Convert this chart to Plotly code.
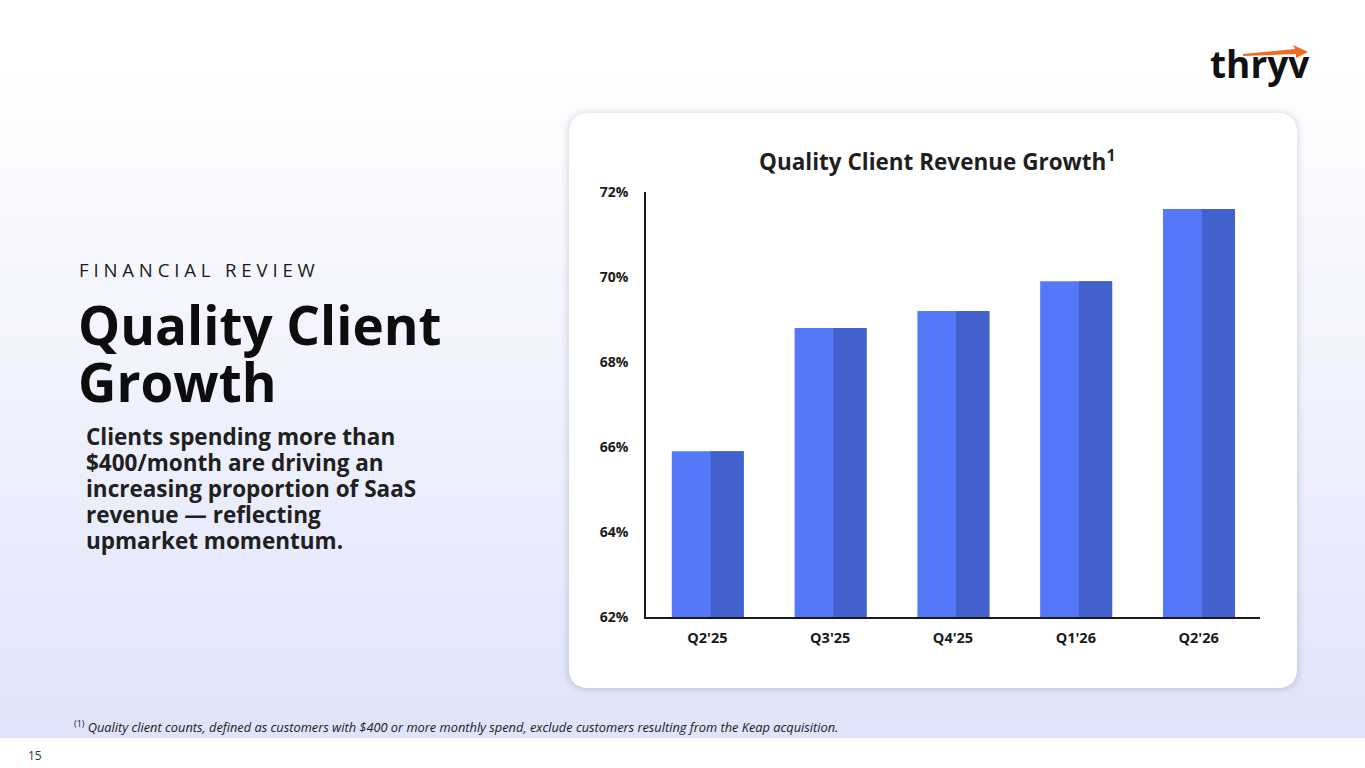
import plotly.graph_objects as go

# ---------------- data ----------------
quarters = ["Q2'25", "Q3'25", "Q4'25", "Q1'26", "Q2'26"]
share_pct = [65.9, 68.8, 69.2, 69.9, 71.6]
y_ticks = [62, 64, 66, 68, 70, 72]
y_tick_text = [f"{v}%" for v in y_ticks]

W, H = 1365, 768
FONT = "Open Sans"


def px(x):
    return x / W


def py(y):
    return 1 - y / H


def rrect(x0, y0, x1, y1, r):
    p = [
        f"M {px(x0 + r)} {py(y0)}",
        f"L {px(x1 - r)} {py(y0)}",
        f"Q {px(x1)} {py(y0)} {px(x1)} {py(y0 + r)}",
        f"L {px(x1)} {py(y1 - r)}",
        f"Q {px(x1)} {py(y1)} {px(x1 - r)} {py(y1)}",
        f"L {px(x0 + r)} {py(y1)}",
        f"Q {px(x0)} {py(y1)} {px(x0)} {py(y1 - r)}",
        f"L {px(x0)} {py(y0 + r)}",
        f"Q {px(x0)} {py(y0)} {px(x0 + r)} {py(y0)}",
        "Z",
    ]
    return " ".join(p)


shapes = []
# background gradient (white -> lavender), stripes
top_c = (255, 255, 255)
bot_c = (224, 228, 250)
n = 90
y_end = 738
for i in range(n):
    t = i / (n - 1)
    t2 = max(0.0, (t - 0.08) / 0.92)
    c = tuple(round(top_c[k] + (bot_c[k] - top_c[k]) * t2) for k in range(3))
    ya = y_end * i / n
    yb = y_end * (i + 1) / n + 0.6
    shapes.append(dict(type="rect", xref="paper", yref="paper", layer="below",
                       x0=0, x1=1, y0=py(yb), y1=py(ya),
                       fillcolor=f"rgb{c}", line=dict(width=0)))
# bottom white strip
shapes.append(dict(type="rect", xref="paper", yref="paper", layer="below",
                   x0=0, x1=1, y0=0, y1=py(y_end), fillcolor="white", line=dict(width=0)))

# card shadow + card
for g, a in [(7, 0.015), (5, 0.02), (3, 0.03), (1.5, 0.04)]:
    shapes.append(dict(type="path", xref="paper", yref="paper", layer="below",
                       path=rrect(569 - g, 113 - g + 1, 1297 + g, 688 + g, 20 + g),
                       fillcolor=f"rgba(60,60,90,{a})", line=dict(width=0)))
shapes.append(dict(type="path", xref="paper", yref="paper", layer="below",
                   path=rrect(569, 113, 1297, 688, 20),
                   fillcolor="white", line=dict(width=0)))

# logo arrow (orange swoosh)
arrow = (f"M {px(1243)} {py(54)} L {px(1295)} {py(49)} L {px(1293)} {py(45)} "
         f"L {px(1308)} {py(52)} L {px(1296)} {py(58)} L {px(1296)} {py(54)} "
         f"L {px(1243)} {py(56)} Z")
shapes.append(dict(type="path", xref="paper", yref="paper", layer="above",
                   path=arrow, fillcolor="#F26A21", line=dict(width=0)))

fig = go.Figure()

# light (front) face of bars
fig.add_trace(go.Bar(
    x=quarters, y=[v - 62 for v in share_pct], base=62,
    width=0.586, offset=-0.29,
    marker=dict(color="#5478F7", line=dict(width=0)),
    hoverinfo="skip", showlegend=False,
))
# darker (side) face of bars
fig.add_trace(go.Bar(
    x=quarters, y=[v - 62 for v in share_pct], base=62,
    width=0.27, offset=0.026,
    marker=dict(color="#4261CC", line=dict(width=0)),
    hoverinfo="skip", showlegend=False,
))


def txt(text, x, y, size, color="#1a1a1a", xanchor="left", yanchor="middle"):
    return dict(text=text, x=px(x), y=py(y), xref="paper", yref="paper",
                xanchor=xanchor, yanchor=yanchor, showarrow=False, align="left",
                font=dict(family=FONT, size=size, color=color))


annotations = [
    txt("<b>Quality Client Revenue Growth</b><sup><b>1</b></sup>", 937, 161, 22.5,
        "#1f1f1f", xanchor="center"),
    txt("F I N A N C I A L   R E V I E W", 77, 269, 18.6),
    txt("<b>Quality Client</b>", 76, 286, 53, "#0d0d0d", yanchor="top"),
    txt("<b>Growth</b>", 76, 343, 53, "#0d0d0d", yanchor="top"),
]
sub_lines = ["Clients spending more than", "$400/month are driving an",
             "increasing proportion of SaaS", "revenue — reflecting", "upmarket momentum."]
for i, s in enumerate(sub_lines):
    annotations.append(txt(f"<b>{s}</b>", 84, 436 + 26 * i, 22.5, "#202020"))

annotations += [
    txt("<sup>(1)</sup> <i>Quality client counts, defined as customers with $400 or more monthly spend, "
        "exclude customers resulting from the Keap acquisition.</i>", 72, 726, 12.8),
    txt("15", 26, 755, 12, "#333333"),
    txt("<b>thryv</b>", 1260, 63, 37, "#111111", xanchor="center"),
]

fig.update_layout(
    width=W, height=H, autosize=False,
    margin=dict(l=0, r=0, t=0, b=0, pad=0, autoexpand=False),
    paper_bgcolor="white", plot_bgcolor="rgba(0,0,0,0)",
    barmode="overlay",
    shapes=shapes, annotations=annotations,
    font=dict(family=FONT),
    xaxis=dict(domain=[px(646), px(1260)], showline=True, linecolor="#1a1a1a", linewidth=1.5,
               showgrid=False, zeroline=False, ticks="", ticklabelstandoff=7, automargin=False,
               tickfont=dict(family=FONT, size=14.5, color="#1a1a1a", weight="bold"),
               fixedrange=True),
    yaxis=dict(domain=[py(617), py(192)], range=[62, 72], tickmode="array",
               tickvals=y_ticks, ticktext=y_tick_text, automargin=False,
               showline=True, linecolor="#1a1a1a", linewidth=1.5, showgrid=False, zeroline=False,
               ticks="", ticklabelstandoff=13,
               tickfont=dict(family=FONT, size=14, color="#1a1a1a", weight="bold"),
               fixedrange=True),
)

fig.write_html(
    "out.html",
    config=dict(displayModeBar=False),
    post_script="document.body.style.margin='0';document.body.style.overflow='hidden';",
)
